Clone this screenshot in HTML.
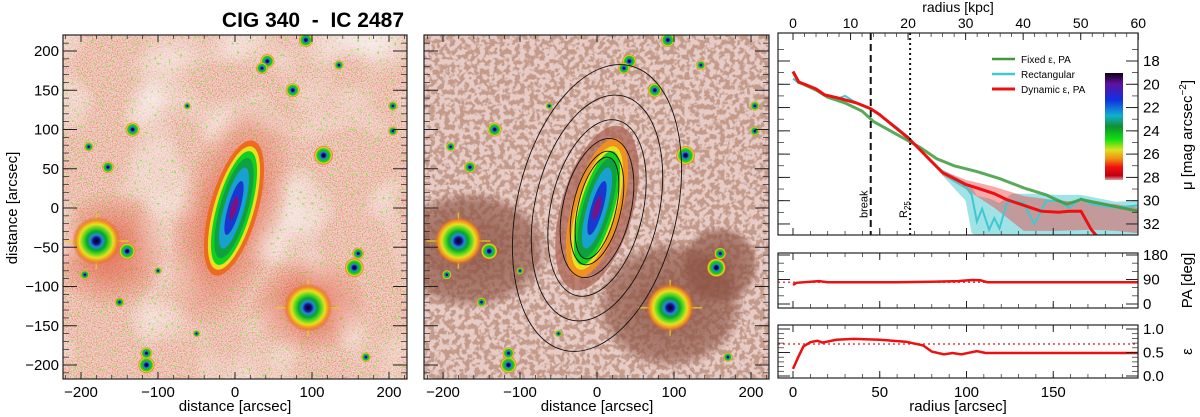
<!DOCTYPE html>
<html><head><meta charset="utf-8"><style>
html,body{margin:0;padding:0;background:#fff;}
svg{display:block;font-family:"Liberation Sans","DejaVu Sans",sans-serif;}
</style></head><body>
<svg id="fig" width="1200" height="417" viewBox="0 0 1200 417" xmlns="http://www.w3.org/2000/svg">
<defs>
<filter id="noise1" x="0" y="0" width="100%" height="100%">
<feTurbulence type="fractalNoise" baseFrequency="0.8" numOctaves="2" seed="3" result="n"/>
<feColorMatrix in="n" type="matrix" values="0 0 0 0 0.88  0 0 0 0 0.25  0 0 0 0 0.12  0 0 0 3.2 -1.4"/>
</filter>
<filter id="whitepatch" x="0" y="0" width="100%" height="100%">
<feTurbulence type="fractalNoise" baseFrequency="0.015" numOctaves="2" seed="21" result="n"/>
<feColorMatrix in="n" type="matrix" values="0 0 0 0 0.95  0 0 0 0 0.9  0 0 0 0 0.9  0 0 0 2.2 -1.0"/>
</filter>
<filter id="specks" x="0" y="0" width="100%" height="100%">
<feTurbulence type="fractalNoise" baseFrequency="0.35" numOctaves="1" seed="11" result="n"/>
<feColorMatrix in="n" type="matrix" values="0 0 0 0 0.3  0 0 0 0 0.8  0 0 0 0 0.1  0 0 0 14 -9.2"/>
</filter>
<filter id="noise2" x="0" y="0" width="100%" height="100%">
<feTurbulence type="fractalNoise" baseFrequency="0.2" numOctaves="2" seed="7" result="n"/>
<feColorMatrix in="n" type="matrix" values="0 0 0 0 0.55  0 0 0 0 0.33  0 0 0 0 0.26  0 0 0 8 -3.6"/>
</filter>
<radialGradient id="star"><stop offset="0" stop-color="#000"/><stop offset="0.22" stop-color="#20109a"/><stop offset="0.35" stop-color="#1a8fd0"/><stop offset="0.5" stop-color="#1fb12a"/><stop offset="0.7" stop-color="#30d020"/><stop offset="0.82" stop-color="#e8e020"/><stop offset="0.92" stop-color="#f08020"/><stop offset="1" stop-color="#e04030" stop-opacity="0"/></radialGradient>
<radialGradient id="bigstar"><stop offset="0" stop-color="#000"/><stop offset="0.15" stop-color="#20109a"/><stop offset="0.25" stop-color="#1a8fd0"/><stop offset="0.4" stop-color="#10a030"/><stop offset="0.5" stop-color="#30d020"/><stop offset="0.7" stop-color="#e8e020"/><stop offset="0.85" stop-color="#f09020"/><stop offset="1" stop-color="#e05030" stop-opacity="0"/></radialGradient>
<radialGradient id="halo"><stop offset="0" stop-color="#e04020" stop-opacity="0.7"/><stop offset="1" stop-color="#e04020" stop-opacity="0"/></radialGradient>
<radialGradient id="halo2"><stop offset="0" stop-color="#8a5040" stop-opacity="0.85"/><stop offset="0.8" stop-color="#8a5040" stop-opacity="0.6"/><stop offset="1" stop-color="#8a5040" stop-opacity="0"/></radialGradient>
<linearGradient id="cbar" x1="0" y1="0" x2="0" y2="1">
<stop offset="0" stop-color="#100010"/><stop offset="0.1" stop-color="#6010a0"/><stop offset="0.25" stop-color="#1030e0"/><stop offset="0.4" stop-color="#10b0d0"/><stop offset="0.5" stop-color="#109030"/><stop offset="0.62" stop-color="#10e010"/><stop offset="0.72" stop-color="#e0e020"/><stop offset="0.8" stop-color="#f09010"/><stop offset="0.88" stop-color="#f01010"/><stop offset="0.96" stop-color="#c00010"/><stop offset="1" stop-color="#e0a0a0"/></linearGradient>
<clipPath id="c1"><rect x="63" y="35" width="344" height="344"/></clipPath>
<clipPath id="c2"><rect x="424" y="35" width="345" height="344"/></clipPath>
<clipPath id="c3"><rect x="778" y="33" width="360" height="202"/></clipPath>
</defs>

<text x="404" y="27" text-anchor="end" font-size="21" font-weight="bold" xml:space="preserve">CIG 340  -  IC 2487</text>

<g id="p1" clip-path="url(#c1)">
<rect x="63" y="35" width="344" height="344" fill="#ebd2cd"/>
<rect x="63" y="35" width="344" height="344" filter="url(#noise1)"/>
<rect x="63" y="35" width="344" height="344" filter="url(#whitepatch)"/>
<rect x="63" y="35" width="344" height="344" filter="url(#specks)"/>
<ellipse cx="230" cy="215" rx="55" ry="120" transform="rotate(17 230 215)" fill="url(#halo)"/>
<ellipse cx="110" cy="250" rx="60" ry="60" fill="url(#halo)"/>
<ellipse cx="310" cy="305" rx="60" ry="50" fill="url(#halo)"/>
<g id="stars1"></g>
<g transform="translate(234,208) rotate(16)">
<ellipse rx="24" ry="70" fill="#ee6a20"/>
<ellipse rx="20" ry="64" fill="#e8e020"/>
<ellipse rx="17" ry="59" fill="#10d020"/>
<ellipse rx="14" ry="52" fill="#10a040"/>
<ellipse rx="10" ry="42" fill="#18a0d0"/>
<ellipse rx="6" ry="28" fill="#1838d0"/>
<ellipse rx="3" ry="12" fill="#801080"/>
</g>
</g>
<rect x="63" y="35" width="344" height="344" fill="none" stroke="#222" stroke-width="1.2"/>
<g id="ax1"></g>

<g id="p2" clip-path="url(#c2)">
<rect x="424" y="35" width="345" height="344" fill="#e6cbc6"/>
<rect x="424" y="35" width="345" height="344" filter="url(#noise2)"/>
<ellipse cx="470" cy="250" rx="80" ry="60" fill="url(#halo2)"/>
<ellipse cx="670" cy="305" rx="75" ry="65" fill="url(#halo2)"/>
<ellipse cx="720" cy="265" rx="40" ry="40" fill="url(#halo2)"/>
<g id="stars2"></g>
<g transform="translate(597,208) rotate(16)">
<ellipse rx="36" ry="85" fill="#a86050" opacity="0.7"/>
<ellipse rx="25" ry="72" fill="#f09020"/>
<ellipse rx="20" ry="64" fill="#e8e020"/>
<ellipse rx="17" ry="59" fill="#10d020"/>
<ellipse rx="14" ry="52" fill="#10a040"/>
<ellipse rx="10" ry="42" fill="#18a0d0"/>
<ellipse rx="6" ry="28" fill="#1838d0"/>
<ellipse rx="3" ry="12" fill="#801080"/>
</g>
<g id="iso" transform="translate(597,208) rotate(13)" fill="none" stroke="#111" stroke-width="0.9"></g>
</g>
<rect x="424" y="35" width="345" height="344" fill="none" stroke="#222" stroke-width="1.2"/>
<g id="ax2"></g>

<text transform="translate(17,208) rotate(-90)" text-anchor="middle" font-size="15">distance [arcsec]</text>
<text x="235" y="411" text-anchor="middle" font-size="15">distance [arcsec]</text>
<text x="597" y="411" text-anchor="middle" font-size="15">distance [arcsec]</text>

<g id="prof"></g>
<g id="pa"></g>
<g id="ecc"></g>
</svg>
<script>
// ---- data ----
const starX = [-180,-140,95,155,115,-133,92,42,35,75,-115,-115,160,-165,-190,205,-62,-150,-195,135,205,-50,170,-100];
const starY = [-42,-55,-127,-76,67,100,214,187,178,150,-200,-185,-58,52,78,130,130,-120,-85,182,98,-160,-190,-80];
const starR = [14,7,15,8,8,6,6,6,5,6,7,5,5,5,4,4,3,4,4,4,4,3,4,3];
const isoA = [146,115,90,71,58,52];
const isoB = [80,62,46,34,24,19];

const profR_red = [0,3.3,8.3,13.3,18.2,26.5,36.5,44.8,49.8,59.7,66.3,73,79.6,86.2,92.9,99.5,106,116,123,133,143,153,159,166,172,176];
const profMu_red = [18.9,19.8,20.1,20.4,20.9,21.2,21.6,22.1,22.6,23.8,24.6,25.6,26.6,27.6,28.1,28.6,28.9,29.4,29.9,30.4,30.9,31.0,30.9,30.9,32.5,33.2];
const profR_green = [0,3.3,13.3,19.9,29.9,39.8,46.4,59.7,73,82.9,92.9,106,119,133,146,153,158,166,176,189,199];
const profMu_green = [18.9,19.8,20.5,21.1,21.6,22.3,23.2,24.3,25.4,26.4,27.0,27.5,28.1,28.9,29.5,30.0,30.3,29.9,30.2,30.6,30.9];
const profR_cyan = [0,3.3,8.3,13.3,18.2,26.5,30,36.5,44.8,49.8,59.7,66.3,73,79.6,86.2,92.9,99.5,103,106,109,113,116,119,123,126,133,139,146,153,159,166,172,186,199];
const profMu_cyan = [19.5,19.9,20.1,20.4,20.9,21.2,21.0,21.6,22.1,22.6,23.7,24.5,25.6,26.6,27.5,28.3,28.8,29.5,31.8,30.7,32.5,31.5,32.4,30.3,30.0,30.2,32.0,30.0,30.0,30.6,29.8,30.3,30.6,30.4];
const bandR_red = [86,99.5,116,133,153,172,186,199];
const bandLo_red = [27.4,28.2,28.8,29.6,30.0,30.1,30.3,30.6];
const bandHi_red = [27.8,29.0,30.6,32.6,32.6,32.5,32.6,32.8];
const bandR_cyan = [86,99.5,103,106,113,119,126,139,153,166,186,199];
const bandLo_cyan = [27.3,28.4,28.8,29.6,29.8,30.2,29.4,29.4,29.5,29.5,30.1,30.0];
const bandHi_cyan = [27.8,30.0,32.8,33,33,33,33,33,33,33,33,33];
const breakR = 44.8, r25R = 67.5;

const paR = [0,2,15,20,40,60,80,95,103,108,112,150,199];
const paV = [70,78,84,80,80,80,82,84,88,87,80,80,80];
const paFixed = 80;
const eR = [0,3,6,10,14,17,25,35,50,65,75,80,87,92,97,106,111,150,199];
const eV = [0.15,0.4,0.63,0.72,0.75,0.71,0.77,0.79,0.77,0.73,0.65,0.52,0.46,0.49,0.46,0.53,0.49,0.49,0.49];
const eFixed = 0.68;

const imgTicks = [-200,-100,0,100,200];
const imgYTicks = [-200,-150,-100,-50,0,50,100,150,200];
const kpcTicks = [0,10,20,30,40,50,60];
const muTicks = [18,20,22,24,26,28,30,32];
const arcTicks = [0,50,100,150];
const paTicks = [0,90,180];
const eTicks = [0.0,0.5,1.0];

// ---- helpers ----
const NS = "http://www.w3.org/2000/svg";
function mk(tag, attrs, parent){const e=document.createElementNS(NS,tag);for(const k in attrs)e.setAttribute(k,attrs[k]);parent.appendChild(e);return e;}
function txt(s, attrs, parent){const e=mk('text',attrs,parent);e.textContent=s;return e;}

function imgX(cx,v){return cx+v*0.77;}
function imgY(v){return 208-v*0.785;}

function drawStars(gid,cx){
  const g=document.getElementById(gid);
  for(let i=0;i<starX.length;i++){
    const x=imgX(cx,starX[i]),y=imgY(starY[i]);
    if(starR[i]>=14){
      const l1=mk('line',{x1:x-32,y1:y,x2:x+32,y2:y,stroke:'#e8d020','stroke-width':1.5,opacity:0.8},g);
      
      
      const l2=mk('line',{x1:x,y1:y-28,x2:x,y2:y+28,stroke:'#e8d020','stroke-width':1.5,opacity:0.8},g);
      
      
      const c=mk('circle',{cx:x,cy:y,r:24,fill:'url(#bigstar)'},g);
      
      
    } else {
      const c=mk('circle',{cx:x,cy:y,r:starR[i]*1.2,fill:'url(#star)'},g);
      
      
    }
  }
}
drawStars('stars1',235);
drawStars('stars2',597);
const iso=document.getElementById('iso');
for(let i=0;i<isoA.length;i++){
  const e=mk('ellipse',{rx:isoB[i],ry:isoA[i]},iso);
  
  
}

function imgAxes(gid,cx,x0,x1,showY){
  const g=document.getElementById(gid);
  imgTicks.forEach(v=>{
    const x=imgX(cx,v);
    mk('line',{x1:x,y1:379,x2:x,y2:372,stroke:'#222'},g);
    mk('line',{x1:x,y1:35,x2:x,y2:42,stroke:'#222'},g);
    const t=txt((v<0?'\u2212':'')+Math.abs(v),{x:x,y:397,'text-anchor':'middle','font-size':15},g);
    
    
  });
  for(let v=-220;v<=220;v+=20){const x=imgX(cx,v);if(x>x0&&x<x1){mk('line',{x1:x,y1:379,x2:x,y2:375,stroke:'#222','stroke-width':0.7},g);mk('line',{x1:x,y1:35,x2:x,y2:39,stroke:'#222','stroke-width':0.7},g);}}
  imgYTicks.forEach(v=>{
    const y=imgY(v);
    mk('line',{x1:x0,y1:y,x2:x0+14,y2:y,stroke:'#222'},g);
    mk('line',{x1:x1,y1:y,x2:x1-14,y2:y,stroke:'#222'},g);
    if(showY){
      const t=txt((v<0?'\u2212':'')+Math.abs(v),{x:x0-4,y:y+5,'text-anchor':'end','font-size':15},g);
      
      
    }
  });
  for(let v=-210;v<=210;v+=10){const y=imgY(v);mk('line',{x1:x0,y1:y,x2:x0+6,y2:y,stroke:'#222','stroke-width':0.7},g);mk('line',{x1:x1,y1:y,x2:x1-6,y2:y,stroke:'#222','stroke-width':0.7},g);}
}
imgAxes('ax1',235,63,407,true);
imgAxes('ax2',597,424,769,false);

// ---- profile panel ----
const PX0=778,PX1=1138;
function xS(a){return 793+a*1.735;}
function yM(m){return 61+(m-18)*11.64;}
function yP(v){return 304-v*49/180;}
function yE(v){return 376-v*47;}
function pts(xs,ys,fy){return xs.map((x,i)=>xS(x).toFixed(1)+','+fy(ys[i]).toFixed(1)).join(' ');}
function band(xs,lo,hi,fy){return pts(xs,lo,fy)+' '+xs.slice().reverse().map((x,i)=>xS(x).toFixed(1)+','+fy(hi[hi.length-1-i]).toFixed(1)).join(' ');}

const pg=document.getElementById('prof');
const inner=mk('g',{'clip-path':'url(#c3)'},pg);
const bc=mk('polygon',{points:band(bandR_cyan,bandLo_cyan,bandHi_cyan,yM),fill:'#40c8d0',opacity:0.5},inner);


const br=mk('polygon',{points:band(bandR_red,bandLo_red,bandHi_red,yM),fill:'#f04040',opacity:0.45},inner);


const lc=mk('polyline',{points:pts(profR_cyan,profMu_cyan,yM),fill:'none',stroke:'#40c8d0','stroke-width':2},inner);


const lg=mk('polyline',{points:pts(profR_green,profMu_green,yM),fill:'none',stroke:'#3c9a3c','stroke-width':3,opacity:0.85},inner);


const lr=mk('polyline',{points:pts(profR_red,profMu_red,yM),fill:'none',stroke:'#ee1010','stroke-width':3},inner);


const bl=mk('line',{x1:xS(breakR),y1:33,x2:xS(breakR),y2:235,stroke:'#111','stroke-width':2,'stroke-dasharray':'7,4'},pg);


const rl=mk('line',{x1:xS(r25R),y1:33,x2:xS(r25R),y2:235,stroke:'#111','stroke-width':2,'stroke-dasharray':'2,3'},pg);


const bt=txt('break',{transform:`translate(${xS(breakR)-3},218) rotate(-90)`,'font-size':11},pg);


const rt=mk('text',{transform:`translate(${xS(r25R)-3},218) rotate(-90)`,'font-size':11},pg);
rt.innerHTML='R<tspan font-size="8" dy="3">25</tspan>';


mk('rect',{x:PX0,y:33,width:PX1-PX0,height:202,fill:'none',stroke:'#222','stroke-width':1.2},pg);
const legItems=[['Fixed \u03B5, PA','#3c9a3c',2.5],['Rectangular','#40c8d0',2.5],['Dynamic \u03B5, PA','#ee1010',3]];
legItems.forEach((it,i)=>{
  const y=59+i*15;
  const l=mk('line',{x1:992,y1:y,x2:1015,y2:y,stroke:it[1],'stroke-width':it[2]},pg);
  
  
  const t=txt(it[0],{x:1021,y:y+4,'font-size':10},pg);
  
  
});
const cb=mk('rect',{x:1105,y:73,width:18,height:107,fill:'url(#cbar)'},pg);


kpcTicks.forEach(k=>{
  const x=xS(k*199/60);
  mk('line',{x1:x,y1:33,x2:x,y2:40,stroke:'#222'},pg);
  const t=txt(String(k),{x:x,y:28,'text-anchor':'middle','font-size':14},pg);
  
  
});
for(let k=2;k<60;k+=2){const x=xS(k*199/60);mk('line',{x1:x,y1:33,x2:x,y2:37,stroke:'#222','stroke-width':0.7},pg);}
arcTicks.forEach(a=>{const x=xS(a);mk('line',{x1:x,y1:235,x2:x,y2:228,stroke:'#222'},pg);});
for(let a=10;a<200;a+=10){const x=xS(a);mk('line',{x1:x,y1:235,x2:x,y2:231,stroke:'#222','stroke-width':0.7},pg);}
muTicks.forEach(m=>{
  const y=yM(m);
  mk('line',{x1:PX0,y1:y,x2:PX0+12,y2:y,stroke:'#222'},pg);
  mk('line',{x1:PX1,y1:y,x2:PX1-12,y2:y,stroke:'#222'},pg);
  const t=txt(String(m),{x:1143,y:y+5,'font-size':15},pg);
  
  
});
for(let m=17;m<=33;m+=1){const y=yM(m);if(y>33&&y<235){mk('line',{x1:PX0,y1:y,x2:PX0+6,y2:y,stroke:'#222','stroke-width':0.7},pg);mk('line',{x1:PX1,y1:y,x2:PX1-6,y2:y,stroke:'#222','stroke-width':0.7},pg);}}
const tx=txt('radius [kpc]',{x:958,y:12,'text-anchor':'middle','font-size':14},pg);


const ty=mk('text',{transform:'translate(1192,135) rotate(-90)','text-anchor':'middle','font-size':15},pg);
ty.innerHTML='\u03BC [mag arcsec<tspan font-size="10" dy="-6">\u22122</tspan><tspan dy="6">]</tspan>';



function smallPanel(gid,y0,y1,fy,rs,vs,fixed,ticks,fmt,title,tminor){
  const g=document.getElementById(gid);
  const d=mk('line',{x1:PX0,y1:fy(fixed),x2:PX1,y2:fy(fixed),stroke:'#e04040','stroke-width':1.5,'stroke-dasharray':'2,3'},g);
  
  
  const l=mk('polyline',{points:pts(rs,vs,fy),fill:'none',stroke:'#ee1010','stroke-width':2.5},g);
  
  
  mk('rect',{x:PX0,y:y0,width:PX1-PX0,height:y1-y0,fill:'none',stroke:'#222','stroke-width':1.2},g);
  arcTicks.forEach(a=>{const x=xS(a);mk('line',{x1:x,y1:y1,x2:x,y2:y1-7,stroke:'#222'},g);mk('line',{x1:x,y1:y0,x2:x,y2:y0+7,stroke:'#222'},g);});
  for(let a=10;a<200;a+=10){const x=xS(a);mk('line',{x1:x,y1:y1,x2:x,y2:y1-4,stroke:'#222','stroke-width':0.7},g);mk('line',{x1:x,y1:y0,x2:x,y2:y0+4,stroke:'#222','stroke-width':0.7},g);}
  ticks.forEach(v=>{
    const y=fy(v);
    mk('line',{x1:PX0,y1:y,x2:PX0+12,y2:y,stroke:'#222'},g);
    mk('line',{x1:PX1,y1:y,x2:PX1-12,y2:y,stroke:'#222'},g);
    const t=txt(fmt(v),{x:1143,y:y+5,'font-size':15},g);
    
    
  });
  tminor.forEach(v=>{const y=fy(v);mk('line',{x1:PX0,y1:y,x2:PX0+6,y2:y,stroke:'#222','stroke-width':0.7},g);mk('line',{x1:PX1,y1:y,x2:PX1-6,y2:y,stroke:'#222','stroke-width':0.7},g);});
  const t=txt(title,{transform:`translate(1192,${(y0+y1)/2}) rotate(-90)`,'text-anchor':'middle','font-size':15},g);
  
  
}
smallPanel('pa',253,308,yP,paR,paV,paFixed,paTicks,v=>String(v),'PA [deg]',[30,60,120,150]);
smallPanel('ecc',325,378,yE,eR,eV,eFixed,eTicks,v=>v.toFixed(1),'\u03B5',[0.1,0.2,0.3,0.4,0.6,0.7,0.8,0.9]);
const eg=document.getElementById('ecc');
arcTicks.forEach(a=>{
  const t=txt(String(a),{x:xS(a),y:397,'text-anchor':'middle','font-size':15},eg);
  
  
});
const xt=txt('radius [arcsec]',{x:958,y:411,'text-anchor':'middle','font-size':15},eg);


</script>
</body></html>
